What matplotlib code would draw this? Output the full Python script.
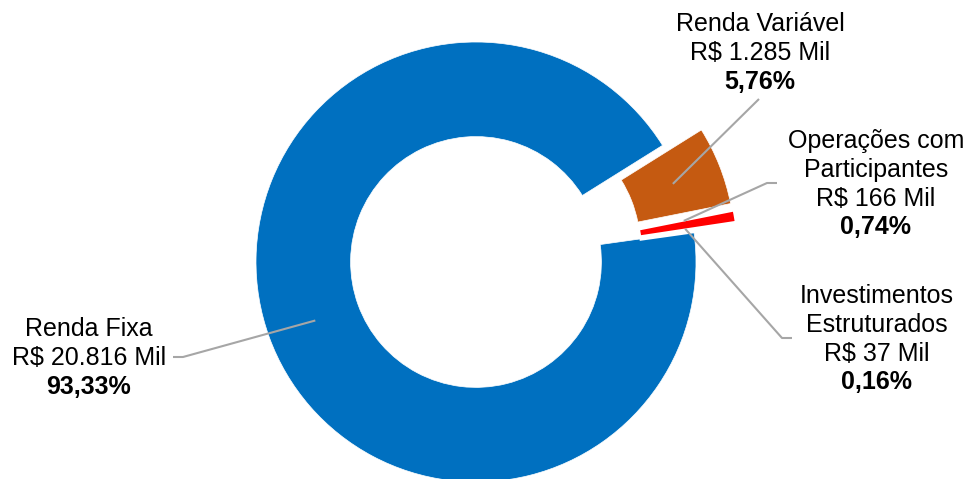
#!/usr/bin/env python3
""" Donut chart: carteira de investimentos por segmento. """

import numpy as np
import matplotlib.pyplot as plt

categorias = ["Renda Fixa", "Renda Variável",
              "Operações com\nParticipantes", "Investimentos\nEstruturados"]
valores_mil = [20816, 1285, 166, 37]
percentuais = ["93,33%", "5,76%", "0,74%", "0,16%"]
valores_txt = ["R$ 20.816 Mil", "R$ 1.285 Mil", "R$ 166 Mil", "R$ 37 Mil"]
cores = ["#0070C0", "#C55A11", "#FF0000", "#A5A5A5"]

plt.rcParams['font.family'] = ['Liberation Sans', 'DejaVu Sans']

H = 479
fig = plt.figure(figsize=(9.7, 4.79), dpi=100)
ax = fig.add_axes([0, 0, 1, 1])

cx, cy, R = 476, H - 262, 220
# explode offsets are absolute (data units) in matplotlib
explode = [0.0, 0.19 * R, 0.19 * R, 0.19 * R]
wedges, _ = ax.pie(valores_mil, colors=cores, explode=explode,
                   startangle=8, counterclock=False, radius=R,
                   center=(cx, cy), frame=True,
                   wedgeprops=dict(width=R * 0.43, edgecolor="white",
                                   linewidth=0.5))
wedges[2].set_linewidth(0)
wedges[3].set_linewidth(3)
ax.set_xlim(0, 970)
ax.set_ylim(0, H)
ax.set_aspect("equal")
ax.axis("off")

# label: centre x, baseline of first line (from top), leader elbow
label_x = [89, 760, 876, 877]
label_top = [336, 31, 148, 303]
elbows = [((173, 357), (183, 357)),
          ((759, 99), (759, 99)),
          ((777, 183), (767, 183)),
          ((792, 338), (782, 338))]
anchor_r = [171, 170, 170, 170]
anchor_ang = [200, None, 11.5, 9.2]

fs = 18
step = 28.8
for i, w in enumerate(wedges):
    linhas = categorias[i].split("\n") + [valores_txt[i], percentuais[i]]
    for k, t in enumerate(linhas):
        bold = k == len(linhas) - 1
        ax.text(label_x[i], H - (label_top[i] + k * step), t, ha="center",
                va="baseline", fontsize=fs, color="#000000",
                fontweight="bold" if bold else "normal")
    mid = (w.theta1 + w.theta2) / 2 if anchor_ang[i] is None else anchor_ang[i]
    wx, wy = w.center
    ax_x = wx + anchor_r[i] * np.cos(np.radians(mid))
    ax_y = wy + anchor_r[i] * np.sin(np.radians(mid))
    (x0, y0), (x1, y1) = elbows[i]
    ax.plot([x0, x1, ax_x], [H - y0, H - y1, ax_y], color="#A6A6A6", lw=1.5,
            solid_capstyle="butt")

fig.savefig("out.png", dpi=100)
